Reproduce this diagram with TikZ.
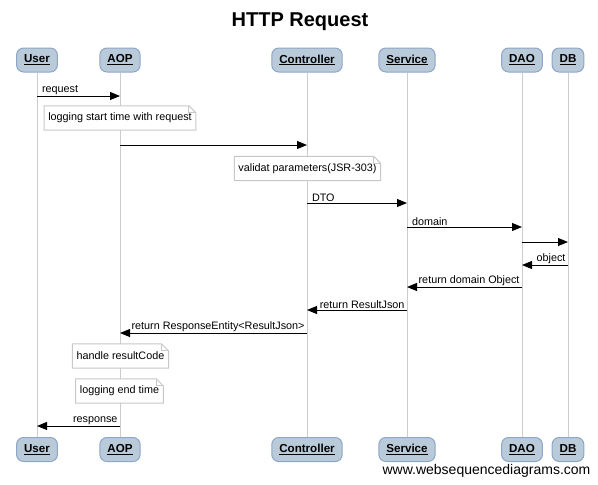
\documentclass[tikz,border=0pt]{standalone}
\usepackage{fontspec}
\setmainfont{Liberation Sans}
\usepackage{xcolor}
\usetikzlibrary{arrows.meta, positioning, calc}

\definecolor{actorfill}{RGB}{185,202,217}
\definecolor{actorline}{RGB}{140,165,200}
\definecolor{lifegray}{RGB}{204,204,204}
\definecolor{notegray}{RGB}{200,200,200}

% folded corner round a note node
\newcommand{\dogear}[1]{%
  \draw[notegray, line width=1pt] (#1.south west) -- (#1.north west) -- ([xshift=-7pt]#1.north east)
    -- ([yshift=-7pt]#1.north east) -- (#1.south east) -- cycle;
  \draw[notegray, line width=1pt] ([xshift=-7pt]#1.north east) |- ([yshift=-7pt]#1.north east);}

\begin{document}
\begin{tikzpicture}[x=1pt, y=-1pt,
    actor/.style={rectangle, draw=actorline, fill=actorfill, rounded corners=7pt, line width=1pt,
      minimum height=24pt, inner xsep=7.5pt, font=\fontsize{11.6}{13}\selectfont\bfseries},
    lifeline/.style={draw=lifegray, line width=1pt},
    msg/.style={draw=black, line width=1pt, -{Triangle[length=10pt, width=8pt]}},
    lbl/.style={font=\fontsize{10.8}{12}\selectfont, inner sep=0.5pt},
    note/.style={fill=white, minimum height=24pt, inner xsep=4pt, font=\fontsize{10.8}{12}\selectfont}
]
    \useasboundingbox (0,0) rectangle (598,485);

    % TITLE
    \node (title) at (300,22) {\fontsize{20}{24}\selectfont\bfseries HTTP Request};

    % PARTICIPANTS AND LIFELINES
    \foreach \name/\txt/\x in {user/User/37, aop/AOP/120, ctrl/Controller/307,
                               svc/Service/407, dao/DAO/522, db/DB/568} {
        \node[actor] (\name T) at (\x,60) {\underline{\txt}};
        \node[actor] (\name B) at (\x,449.5) {\underline{\txt}};
        \draw[lifeline] (\name T) -- (\name B);
    }

    % NOTES
    \node[note] (logStart) at (120,118) {logging start time with request};
    \dogear{logStart}
    \node[note] (validate) at (307.5,168.5) {validat parameters(JSR-303)};
    \dogear{validate}
    \node[note] (handle) at (120.5,356) {handle resultCode};
    \dogear{handle}
    \node[note] (logEnd) at (119.5,391) {logging end time};
    \dogear{logEnd}

    % MESSAGES TO THE RIGHT
    \foreach \from/\to/\y/\txt in {user/aop/96/request, aop/ctrl/145/{},
                                   ctrl/svc/203/DTO, svc/dao/227/domain, dao/db/242/{}} {
        \coordinate (\from-\y) at (\from T |- 0,\y);
        \coordinate (\to-\y) at (\to T |- 0,\y);
        \draw[msg] (\from-\y) -- node[lbl, pos=0, anchor=south west, xshift=4pt] {\txt} (\to-\y);
    }

    % MESSAGES TO THE LEFT
    \foreach \from/\to/\y/\txt in {db/dao/265/object, dao/svc/287/return domain Object,
                                   svc/ctrl/310/return ResultJson,
                                   ctrl/aop/333/return ResponseEntity<ResultJson>,
                                   aop/user/426/response} {
        \coordinate (\from-\y) at (\from T |- 0,\y);
        \coordinate (\to-\y) at (\to T |- 0,\y);
        \draw[msg] (\from-\y) -- node[lbl, pos=0, anchor=south east, xshift=-1.5pt] {\txt} (\to-\y);
    }

    % WATERMARK
    \node (mark) at (486.5,471) {\fontsize{14}{16}\selectfont www.websequencediagrams.com};
\end{tikzpicture}
\end{document}
